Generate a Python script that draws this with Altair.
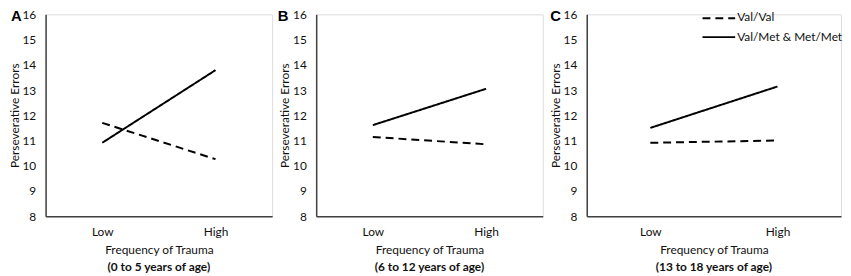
import altair as alt
import pandas as pd

# ---- data ----
freq = ["Low", "High"]
genotypes = ["Val/Val", "Val/Met & Met/Met"]
letters = ["A", "B", "C"]
ages = ["(0 to 5 years of age)", "(6 to 12 years of age)", "(13 to 18 years of age)"]
valval_A = [11.70, 10.26]
met_A = [10.91, 13.79]
valval_B = [11.14, 10.85]
met_B = [11.61, 13.05]
valval_C = [10.91, 11.00]
met_C = [11.50, 13.14]
y_ticks = [8, 9, 10, 11, 12, 13, 14, 15, 16]

FONT = "Lato"
H = 204
AXIS_COLOR = "#404040"
TEXT_COLOR = "#111111"


def panel(letter, age, valval, met, width, letter_x, letter_align, title_x, legend=False):
    df = pd.DataFrame({
        "freq": freq + freq,
        "errors": valval + met,
        "genotype": [genotypes[0]] * 2 + [genotypes[1]] * 2,
    })
    lines = alt.Chart(df).mark_line(color="black", strokeWidth=2).encode(
        x=alt.X(
            "freq:O", sort=freq,
            scale=alt.Scale(type="point", padding=0.5),
            axis=alt.Axis(
                title="Frequency of Trauma", labelAngle=0, ticks=False, tickSize=0,
                labelPadding=16, labelBaseline="middle", labelFontSize=12,
                labelColor=TEXT_COLOR, domainColor=AXIS_COLOR, domainWidth=1.5,
                titleFontSize=12, titleFontWeight="normal", titleColor=TEXT_COLOR,
                titleX=width / 2, titleY=34, titleBaseline="middle", titleFont=FONT,
                labelFont=FONT, grid=False,
            ),
        ),
        y=alt.Y(
            "errors:Q",
            scale=alt.Scale(domain=[8, 16], nice=False, zero=False),
            axis=alt.Axis(
                values=y_ticks, title="Perseverative Errors", ticks=False, tickSize=0,
                labelPadding=10, labelFontSize=12, labelColor=TEXT_COLOR,
                domainColor=AXIS_COLOR, domainWidth=1.5, grid=False,
                titleFontSize=12, titleFontWeight="normal", titleColor=TEXT_COLOR,
                titleX=title_x, titleY=H / 2, titleBaseline="middle", titleFont=FONT,
                labelFont=FONT,
            ),
        ),
        strokeDash=alt.StrokeDash(
            "genotype:N",
            scale=alt.Scale(domain=genotypes, range=[[8, 5], [1, 0]]),
            legend=None,
        ),
    )
    letter_txt = alt.Chart(pd.DataFrame({"t": [letter]})).mark_text(
        font="Liberation Sans", fontWeight="bold", fontSize=15, align=letter_align,
        baseline="middle", color="black",
    ).encode(text="t:N", x=alt.value(letter_x), y=alt.value(2))
    age_txt = alt.Chart(pd.DataFrame({"t": [age]})).mark_text(
        font=FONT, fontWeight="bold", fontSize=12, align="center",
        baseline="middle", color=TEXT_COLOR,
    ).encode(text="t:N", x=alt.value(width / 2), y=alt.value(H + 51))
    layers = [lines, letter_txt, age_txt]
    if legend:
        leg = pd.DataFrame({"t": [genotypes[0]]})
        leg2 = pd.DataFrame({"t": [genotypes[1]]})
        layers += [
            alt.Chart(leg).mark_rule(color="black", strokeWidth=2, strokeDash=[8, 5]).encode(
                x=alt.value(117), x2=alt.value(150), y=alt.value(4)),
            alt.Chart(leg).mark_text(font=FONT, fontSize=12, align="left", baseline="middle",
                                     color=TEXT_COLOR).encode(
                text="t:N", x=alt.value(152), y=alt.value(3)),
            alt.Chart(leg2).mark_rule(color="black", strokeWidth=2).encode(
                x=alt.value(117), x2=alt.value(150), y=alt.value(23)),
            alt.Chart(leg2).mark_text(font=FONT, fontSize=12, align="left", baseline="middle",
                                      color=TEXT_COLOR).encode(
                text="t:N", x=alt.value(152), y=alt.value(23)),
        ]
    return alt.layer(*layers).properties(width=width, height=H)


pA = panel(letters[0], ages[0], valval_A, met_A, 229, -35, "left", -31)
pB = panel(letters[1], ages[1], valval_B, met_B, 229, -28, "right", -32)
pC = panel(letters[2], ages[2], valval_C, met_C, 257, -26, "right", -32, legend=True)

chart = alt.hconcat(pA, pB, pC, spacing=44.5, bounds="flush").resolve_scale(
    strokeDash="independent"
).properties(
    padding={"left": 0, "top": -2, "right": 0, "bottom": 0}
).configure_view(stroke=None).configure(font=FONT)

chart.save("out.html", embed_options={"renderer": "svg", "actions": False})
